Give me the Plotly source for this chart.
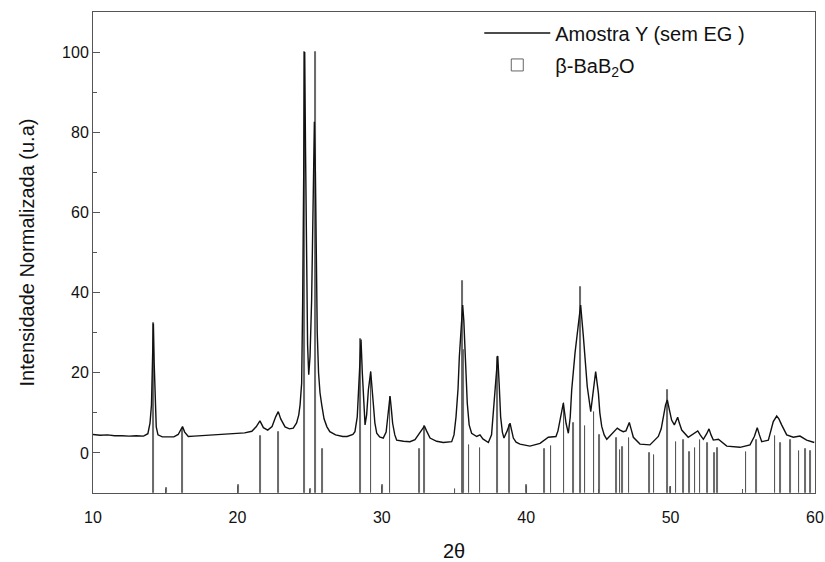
import plotly.graph_objects as go

theta = [10.0, 10.5, 11.0, 11.5, 12.0, 12.5, 13.0, 13.5, 13.8, 13.95, 14.05, 14.12, 14.18, 14.24, 14.3, 14.38, 14.5,
         14.8, 15.2, 15.6, 15.9, 16.1, 16.2, 16.35, 16.6, 17.0, 17.5, 18.0, 18.5, 19.0, 19.5, 20.0, 20.5, 21.0,
         21.3, 21.56, 21.8, 22.1, 22.4, 22.65, 22.83, 23.0, 23.3, 23.6, 23.87, 24.1, 24.25, 24.34, 24.45, 24.52,
         24.6, 24.66, 24.72, 24.79, 24.86, 24.94, 25.03, 25.14, 25.26, 25.33, 25.4, 25.46, 25.53, 25.62, 25.72,
         25.84, 26.0, 26.2, 26.4, 26.8, 27.3, 27.6, 28.0, 28.14, 28.3, 28.45, 28.56, 28.65, 28.72, 28.84, 28.95,
         29.07, 29.23, 29.32, 29.41, 29.52, 29.65, 29.85, 30.1, 30.3, 30.45, 30.57, 30.66, 30.75, 30.9, 31.03,
         31.5, 31.95, 32.3, 32.53, 32.8, 32.95, 33.1, 33.34, 33.8, 34.26, 34.84, 35.0, 35.14, 35.28, 35.37, 35.5,
         35.6, 35.68, 35.76, 35.85, 35.92, 36.05, 36.22, 36.57, 36.8, 37.0, 37.38, 37.6, 37.77, 37.92, 38.03,
         38.13, 38.23, 38.35, 38.46, 38.68, 38.88, 39.0, 39.11, 39.3, 39.57, 40.26, 40.96, 41.53, 42.06, 42.2,
         42.34, 42.57, 42.76, 42.92, 43.05, 43.15, 43.38, 43.61, 43.77, 43.96, 44.1, 44.23, 44.47, 44.65, 44.81,
         45.0, 45.1, 45.23, 45.4, 45.58, 45.8, 46.03, 46.31, 46.5, 46.72, 46.91, 47.14, 47.3, 47.42, 47.88,
         48.57, 49.15, 49.35, 49.5, 49.65, 49.77, 49.9, 50.07, 50.26, 50.49, 50.6, 50.77, 51.22, 51.69, 51.88,
         52.05, 52.27, 52.5, 52.66, 52.8, 52.96, 53.31, 53.89, 54.81, 55.5, 55.8, 56.0, 56.15, 56.31, 56.77,
         56.95, 57.11, 57.35, 57.5, 57.69, 58.04, 58.5, 58.96, 59.42, 59.95]
intensity = [4.6, 4.4, 4.5, 4.3, 4.3, 4.2, 4.3, 4.2, 4.8, 7.5, 12, 20, 32.3, 22, 12, 6.5, 4.5,
             4.0, 4.0, 4.0, 4.6, 6.0, 6.6, 5.2, 4.1, 4.2, 4.3, 4.4, 4.6, 4.7, 4.8, 4.9, 5.0, 5.4,
             6.5, 8.0, 6.3, 5.7, 6.6, 9.0, 10.3, 8.5, 6.5, 6.0, 6.2, 7.5, 9.5, 12, 17.4, 38,
             80, 100, 75, 45, 27, 19.5, 24, 38, 71, 82.6, 70, 52, 30, 20, 15,
             12, 8.5, 6.5, 5.3, 4.5, 4.1, 4.1, 4.6, 5.3, 9, 20, 28.3, 20, 15.7, 7, 9.5,
             15.7, 20.3, 17, 12.4, 7.5, 4.9, 4.0, 3.7, 5.2, 10, 14.2, 11, 7.4, 4.5, 3.2,
             2.9, 2.8, 3.3, 4.5, 6.0, 6.7, 5.5, 3.7, 2.9, 2.6, 2.8, 4.5, 9, 16, 24, 33,
             36.9, 33, 25.7, 17, 12.4, 7, 4.9, 4.1, 4.5, 3.5, 2.6, 4.5, 11.5, 19, 24.2,
             17, 9, 5.2, 3.7, 5.5, 7.4, 5.5, 3.7, 2.7, 2.2, 1.7, 2.4, 3.9, 4.1, 5.5,
             8.2, 12.4, 7.4, 4.9, 9, 15.7, 24.9, 32.3, 36.9, 29, 22, 16.5, 10.3, 16.5, 20.3,
             14.9, 10, 6.6, 4.5, 3.4, 4.2, 5.3, 6.2, 5.7, 5.3, 5.5, 7.6, 5.5, 3.9, 2.2,
             2.0, 4.1, 6, 9, 12, 13.2, 11, 8.2, 7, 8.9, 7.5, 5.7, 3.9, 5.1, 5.5,
             4.5, 3.4, 4.8, 6.0, 4.5, 3.2, 3.4, 1.7, 1.4, 2.0, 4.1, 6.3, 4.5, 2.8, 3.2,
             5.5, 7.8, 9.2, 8.5, 7, 4.5, 3.9, 4.2, 3.2, 2.6]

# Reference pattern beta-BaB2O4 : stick positions and top values (on the plot's scale)
ref_theta = [14.18, 15.1, 16.21, 20.06, 21.61, 22.86, 24.63, 25.07, 25.40, 25.88, 28.54, 29.25, 30.03,
             30.57, 32.6, 32.94, 35.07, 35.6, 35.67, 36.03, 36.8, 38.03, 38.83, 40.03, 41.25, 41.72,
             42.62, 43.26, 43.75, 44.07, 44.70, 45.06, 46.27, 46.5, 46.68, 47.12, 48.53, 48.85, 49.77,
             50.0, 50.37, 50.88, 51.3, 51.69, 52.04, 52.57, 53.03, 53.26, 55.22, 55.96, 57.23, 57.62,
             58.31, 58.89, 59.36, 59.70]
ref_top = [32.3, -8.8, 6, -8, 4.1, 5.3, 100, -9, 100, 0.9, 28.4, 20.3, -8,
           14, 0.9, 6.6, -9, 43, 25.7, 2, 1.2, 24, 7, -8, 0.9, 1.7,
           12.4, 7.4, 41.5, 6.6, 10.3, 4.5, 3.7, 0.7, 1.6, 3.7, -0.1, -0.5, 15.7,
           -8.6, 2.8, 3.2, 0.3, 1.2, 3.2, 2.4, -0.1, 1.2, 0.3, 3.2, 4.1, 2.4,
           3.2, 0.5, 1.0, 0.5]
ref_base = -10

y_ticks = [0, 20, 40, 60, 80, 100]
x_ticks = [10, 20, 30, 40, 50, 60]

FONT = "Liberation Sans, Arial, sans-serif"

fig = go.Figure()
fig.add_trace(go.Scatter(
    x=theta, y=intensity, mode="lines", name="Amostra Y (sem EG )", legendgroup="amostra",
    line=dict(color="#111111", width=1.4),
))
fig.add_trace(go.Bar(
    x=ref_theta, y=[t - ref_base for t in ref_top], base=ref_base,
    width=0.04, name="β-BaB<sub>2</sub>O", legendgroup="ref",
    marker=dict(color="white", line=dict(color="#555555", width=0.9)),
))

axis_common = dict(showline=True, linecolor="#555555", linewidth=1, mirror=True,
                   ticks="inside", ticklen=7, tickcolor="#555555", showgrid=False, zeroline=False,
                   automargin=False,
                   tickfont=dict(family=FONT, size=16, color="#111111"))

fig.update_layout(
    width=825, height=562,
    margin=dict(l=93, r=10, t=12, b=69),
    paper_bgcolor="white", plot_bgcolor="white",
    font=dict(family=FONT, color="#111111"),
    bargap=0,
    showlegend=True,
    legend=dict(x=0.535, y=0.997, xanchor="left", yanchor="top", bgcolor="rgba(0,0,0,0)",
                font=dict(family=FONT, size=20, color="#111111"), traceorder="grouped",
                itemwidth=66, tracegroupgap=3),
    xaxis=dict(range=[10, 60], tickvals=x_ticks, ticklabelstandoff=10,
               minor=dict(ticks="inside", ticklen=4, dtick=5, tickcolor="#555555"),
               title=dict(text="2θ", font=dict(family=FONT, size=20), standoff=18),
               **axis_common),
    yaxis=dict(range=[-10, 110], tickvals=y_ticks,
               minor=dict(ticks="inside", ticklen=4, dtick=10, tick0=0, tickcolor="#555555"),
               title=dict(text="Intensidade Normalizada (u.a)", font=dict(family=FONT, size=20), standoff=22),
               **axis_common),
)

fig.write_html("out.html")
